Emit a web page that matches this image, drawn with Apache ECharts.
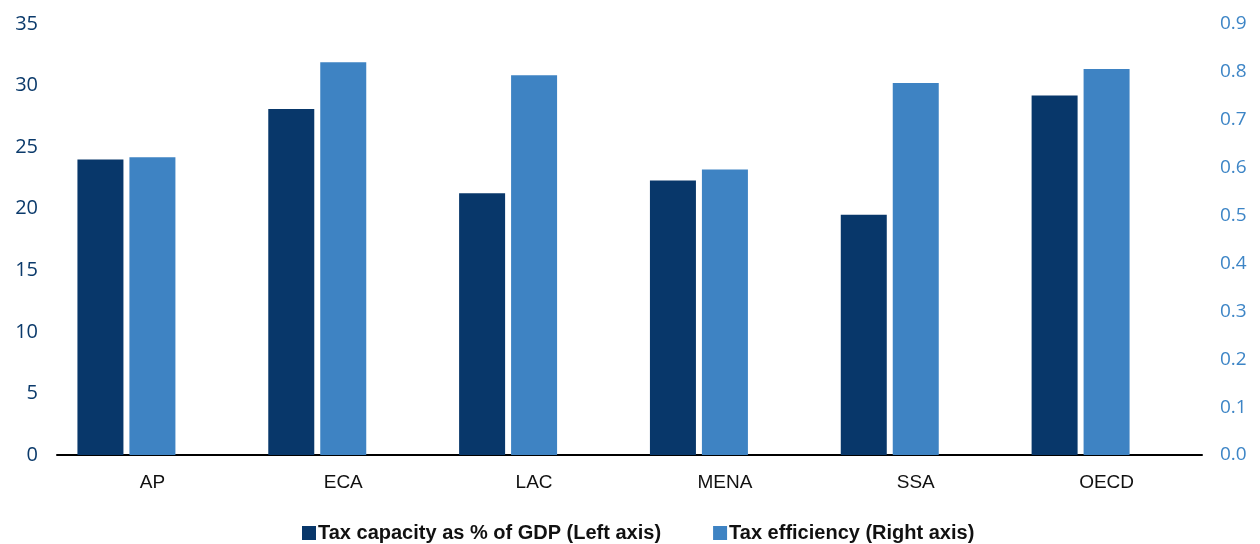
<!DOCTYPE html>
<html>
<head>
<meta charset="utf-8">
<script src="https://cdn.jsdelivr.net/npm/echarts@6/dist/echarts.min.js"></script>
<style>
  html, body { margin: 0; padding: 0; background: #ffffff; }
  #chart { width: 1260px; height: 544px; }
</style>
</head>
<body>
<div id="chart"></div>
<script>
// Regions
const categories = ['AP', 'ECA', 'LAC', 'MENA', 'SSA', 'OECD'];
// Tax capacity as % of GDP (left axis)
const taxCapacity = [24.0, 28.1, 21.25, 22.3, 19.5, 29.2];
// Tax efficiency (right axis)
const taxEfficiency = [0.622, 0.820, 0.793, 0.596, 0.777, 0.806];
// Empty third slot in each group, keeps the pair left of the category centre
const emptySlot = [null, null, null, null, null, null];

const seriesNames = ['Tax capacity as % of GDP (Left axis)', 'Tax efficiency (Right axis)'];

const DARK = '#08376a';
const LIGHT = '#3e83c3';

const chart = echarts.init(document.getElementById('chart'), null, { renderer: 'canvas' });

chart.setOption({
  animation: false,
  backgroundColor: '#ffffff',
  grid: { left: 57, right: 58, top: 24, bottom: 89, containLabel: false },
  legend: {
    data: seriesNames,
    bottom: 1,
    left: 302,
    padding: 0,
    itemWidth: 14,
    itemHeight: 14,
    itemGap: 52,
    icon: 'rect',
    textStyle: {
      fontFamily: '"Liberation Sans Narrow", "Liberation Sans", sans-serif',
      fontWeight: 'bold',
      fontSize: 20,
      color: '#111111',
      padding: [0, 0, 0, -3]
    }
  },
  xAxis: {
    type: 'category',
    data: categories,
    axisLine: { show: true, lineStyle: { color: '#000000', width: 2 } },
    axisTick: { show: false },
    axisLabel: {
      margin: 18,
      fontFamily: '"Liberation Sans Narrow", "Liberation Sans", sans-serif',
      fontSize: 19,
      color: '#111111'
    },
    splitLine: { show: false }
  },
  yAxis: [
    {
      type: 'value',
      min: 0, max: 35, interval: 5,
      axisLine: { show: false },
      axisTick: { show: false },
      splitLine: { show: false },
      axisLabel: {
        margin: 19,
        fontFamily: '"Open Sans", sans-serif',
        fontSize: 20,
        color: '#0b3a6b'
      }
    },
    {
      type: 'value',
      min: 0, max: 0.9, interval: 0.1,
      position: 'right',
      axisLine: { show: false },
      axisTick: { show: false },
      splitLine: { show: false },
      axisLabel: {
        margin: 18,
        fontFamily: '"Open Sans", sans-serif',
        fontSize: 19,
        color: '#3d85c6',
        formatter: v => v.toFixed(1)
      }
    }
  ],
  series: [
    {
      name: seriesNames[0],
      type: 'bar',
      yAxisIndex: 0,
      data: taxCapacity,
      barWidth: 46,
      barGap: '13%',
      itemStyle: { color: DARK }
    },
    {
      name: seriesNames[1],
      type: 'bar',
      yAxisIndex: 1,
      data: taxEfficiency,
      barWidth: 46,
      barGap: '13%',
      itemStyle: { color: LIGHT }
    },
    {
      name: 'slot',
      type: 'bar',
      yAxisIndex: 0,
      data: emptySlot,
      barWidth: 46,
      barGap: '13%',
      silent: true
    }
  ]
});
</script>
</body>
</html>
